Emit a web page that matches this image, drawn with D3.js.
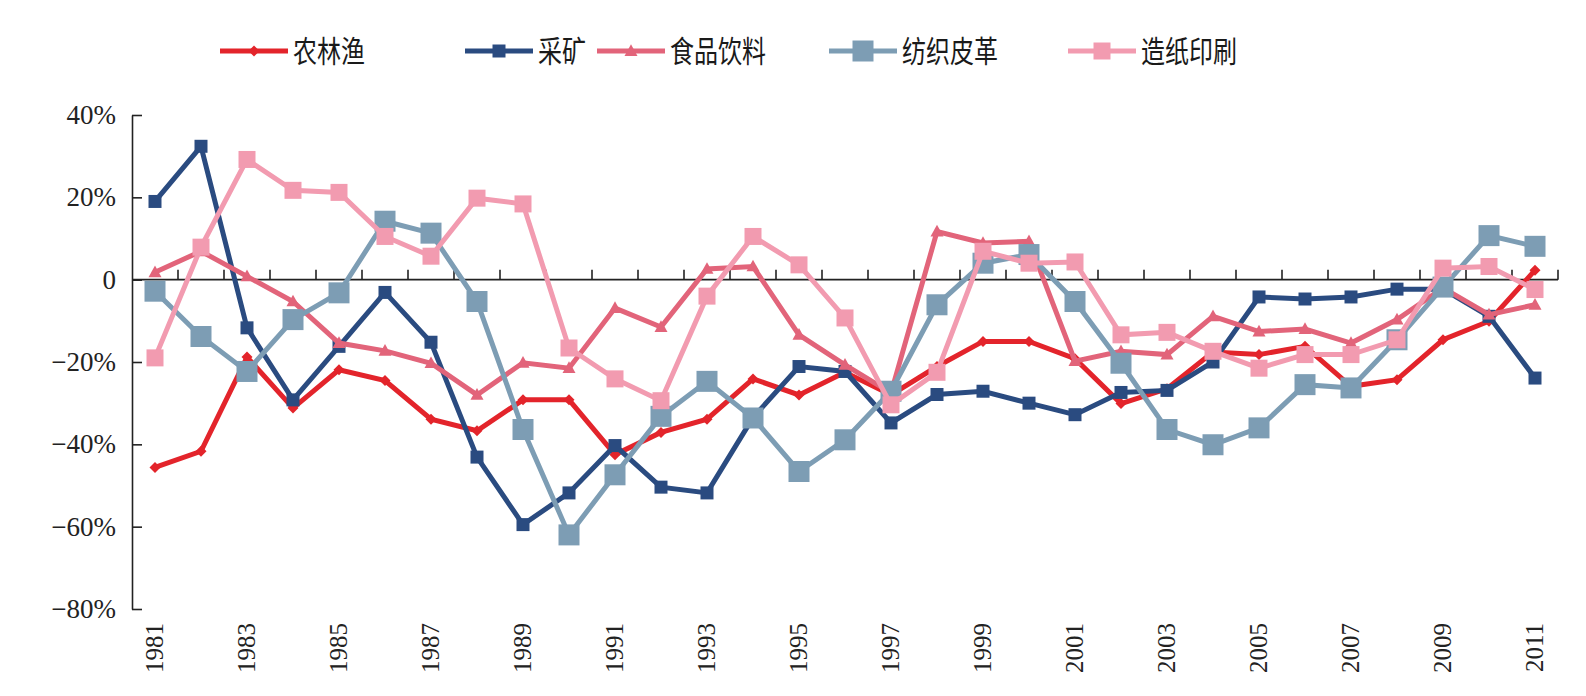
<!DOCTYPE html>
<html>
<head>
<meta charset="utf-8">
<script src="https://cdn.jsdelivr.net/npm/d3@7"></script>
<style>
  html, body { margin: 0; padding: 0; background: #ffffff; }
  svg { display: block; }
</style>
</head>
<body>
<svg id="chart" width="1586" height="696"></svg>
<script>
// ---------- data ----------
const years = [1981,1982,1983,1984,1985,1986,1987,1988,1989,1990,1991,1992,1993,1994,1995,1996,1997,1998,1999,2000,2001,2002,2003,2004,2005,2006,2007,2008,2009,2010,2011];
const seriesNames = ["农林渔", "采矿", "食品饮料", "纺织皮革", "造纸印刷"];
const agriculture = [-45.6,-41.7,-18.8,-31.2,-21.9,-24.5,-33.9,-36.7,-29.2,-29.2,-42.5,-37.1,-33.9,-24.1,-28.0,-22.5,-28.0,-21.1,-15.0,-15.0,-19.2,-30.1,-26.5,-17.6,-18.2,-16.2,-25.9,-24.3,-14.6,-10.1,2.3];
const mining = [19.0,32.4,-11.7,-29.2,-16.2,-3.1,-15.2,-43.1,-59.5,-51.8,-40.3,-50.4,-51.8,-33.5,-21.1,-22.3,-34.8,-27.9,-27.1,-30.0,-32.8,-27.4,-26.9,-20.0,-4.2,-4.7,-4.2,-2.3,-2.3,-8.9,-23.9];
const foodBeverage = [1.8,6.9,0.8,-5.3,-15.4,-17.3,-20.3,-28.0,-20.2,-21.5,-6.9,-11.5,2.6,3.2,-13.4,-20.7,-27.5,11.7,8.9,9.3,-19.8,-17.4,-18.2,-8.9,-12.6,-12.0,-15.4,-9.7,-2.0,-8.5,-6.1];
const textileLeather = [-2.8,-13.8,-22.3,-9.7,-3.2,14.2,11.3,-5.3,-36.4,-62.0,-47.4,-33.2,-24.7,-33.6,-46.6,-38.9,-27.1,-6.1,4.0,6.1,-5.3,-20.3,-36.4,-40.1,-36.0,-25.5,-26.3,-14.6,-1.8,10.7,8.1];
const paperPrinting = [-19.0,7.9,29.2,21.7,21.2,10.5,5.7,19.8,18.4,-16.6,-24.1,-29.4,-4.0,10.5,3.6,-9.3,-30.4,-22.5,6.9,4.0,4.3,-13.4,-12.8,-17.4,-21.5,-18.2,-18.2,-14.6,2.8,3.2,-2.4];
const yTicks = [40, 20, 0, -20, -40, -60, -80];
const xLabelYears = [1981,1983,1985,1987,1989,1991,1993,1995,1997,1999,2001,2003,2005,2007,2009,2011];

// ---------- styles ----------
const styles = [
  { color: "#e3242b", marker: "diamond", size: 11 },
  { color: "#2a4b80", marker: "square",  size: 13 },
  { color: "#e2647a", marker: "triangle", size: 13 },
  { color: "#7d9db4", marker: "square",  size: 21 },
  { color: "#f29bb0", marker: "square",  size: 17 }
];
const allValues = [agriculture, mining, foodBeverage, textileLeather, paperPrinting];
const series = seriesNames.map((name, i) => ({
  name, style: styles[i],
  points: years.map((yr, j) => ({ year: yr, value: allValues[i][j] }))
}));

// ---------- layout ----------
const svg = d3.select("#chart");
const plotLeft = 132, plotRight = 1558, plotTop = 115, plotBottom = 609;

const x = d3.scaleBand().domain(years).range([plotLeft, plotRight]).padding(0);
const y = d3.scaleLinear().domain([-80, 40]).range([plotBottom, plotTop]);
const cx = d => x(d) + x.bandwidth() / 2;

const serif = "'Liberation Serif', 'Times New Roman', serif";

// y axis
const yAxis = d3.axisLeft(y)
  .tickValues(yTicks)
  .tickSizeInner(-10)
  .tickSizeOuter(0)
  .tickPadding(16)
  .tickFormat(d => d === 0 ? "0" : d3.format("d")(d) + "%");
const gy = svg.append("g").attr("transform", `translate(${plotLeft},0)`).call(yAxis);
gy.select(".domain").attr("stroke", "#222").attr("stroke-width", 1.6);
gy.selectAll(".tick line").attr("stroke", "#222").attr("stroke-width", 1.6);
gy.selectAll(".tick text").attr("font-family", serif).attr("font-size", 27).attr("fill", "#222");

// x axis line at zero with boundary ticks
const zeroY = y(0);
svg.append("line")
  .attr("x1", plotLeft).attr("x2", plotRight)
  .attr("y1", zeroY).attr("y2", zeroY)
  .attr("stroke", "#222").attr("stroke-width", 1.6);
const boundaries = years.map(d => x(d) + x.bandwidth());
svg.append("g").selectAll("line").data(boundaries).join("line")
  .attr("x1", d => d).attr("x2", d => d)
  .attr("y1", zeroY).attr("y2", zeroY - 10)
  .attr("stroke", "#222").attr("stroke-width", 1.6);

// x labels at bottom, rotated
svg.append("g").selectAll("text").data(xLabelYears).join("text")
  .attr("transform", d => `translate(${cx(d) + 8},${plotBottom + 14}) rotate(-90)`)
  .attr("text-anchor", "end")
  .attr("font-family", serif)
  .attr("font-size", 25)
  .attr("fill", "#222")
  .text(d => d);

// markers
function markerPath(type, size) {
  const h = size / 2;
  if (type === "square") return `M${-h},${-h}H${h}V${h}H${-h}Z`;
  if (type === "diamond") return `M0,${-h}L${h},0L0,${h}L${-h},0Z`;
  if (type === "triangle") return `M0,${-h * 1.05}L${h},${h * 0.75}L${-h},${h * 0.75}Z`;
  return "";
}

const line = d3.line().x(d => cx(d.year)).y(d => y(d.value));

const gSeries = svg.append("g").selectAll("g").data(series).join("g");
gSeries.append("path")
  .attr("d", d => line(d.points))
  .attr("fill", "none")
  .attr("stroke", d => d.style.color)
  .attr("stroke-width", 5)
  .attr("stroke-linejoin", "miter");
gSeries.each(function(s) {
  d3.select(this).selectAll("path.mk").data(s.points).join("path")
    .attr("class", "mk")
    .attr("transform", d => `translate(${cx(d.year)},${y(d.value)})`)
    .attr("d", markerPath(s.style.marker, s.style.size))
    .attr("fill", s.style.color);
});

// legend
const legendX = [220, 465, 597, 829, 1068];
const legendY = 51;
const lg = svg.append("g").selectAll("g").data(series).join("g")
  .attr("transform", (d, i) => `translate(${legendX[i]},${legendY})`);
lg.append("line")
  .attr("x1", 0).attr("x2", 68).attr("y1", 0).attr("y2", 0)
  .attr("stroke", d => d.style.color).attr("stroke-width", 5);
lg.append("path")
  .attr("transform", "translate(34,0)")
  .attr("d", d => markerPath(d.style.marker, d.style.size))
  .attr("fill", d => d.style.color);
lg.append("text")
  .attr("transform", "translate(73,0) scale(0.8,1)")
  .attr("dy", "0.36em")
  .attr("font-family", "'Noto Sans CJK SC', sans-serif")
  .attr("font-size", 30)
  .attr("fill", "#1a1a1a")
  .text(d => d.name);
</script>
</body>
</html>
